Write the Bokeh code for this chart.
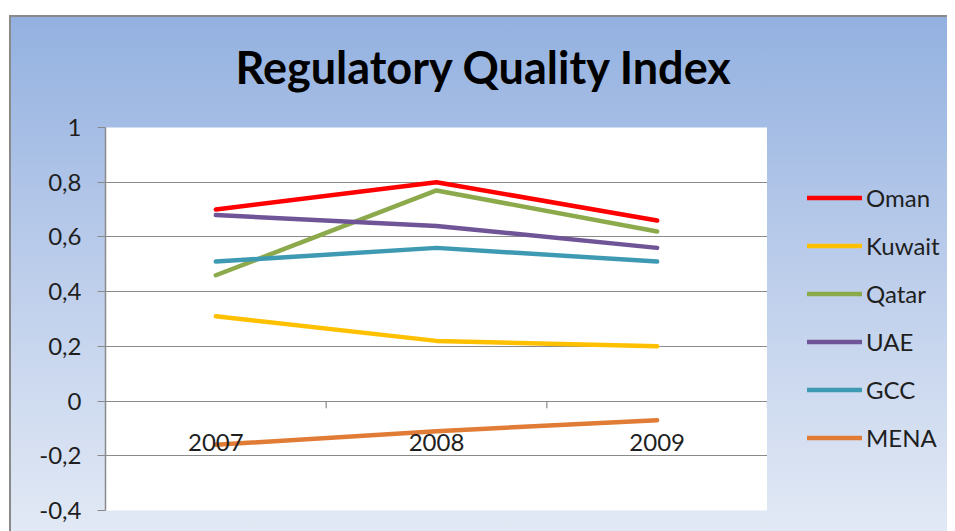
from bokeh.plotting import figure
from bokeh.layouts import row
from bokeh.models import (FactorRange, Range1d, FixedTicker, CategoricalAxis,
                          Legend, LegendItem, Title)
from bokeh.embed import file_html
from bokeh.resources import INLINE

# ---- data ----
years = ["2007", "2008", "2009"]
oman = [0.70, 0.80, 0.66]
kuwait = [0.31, 0.22, 0.20]
qatar = [0.46, 0.77, 0.62]
uae = [0.68, 0.64, 0.56]
gcc = [0.51, 0.56, 0.51]
mena = [-0.16, -0.11, -0.07]
series_names = ["Oman", "Kuwait", "Qatar", "UAE", "GCC", "MENA"]
y_ticks = [-0.4, -0.2, 0, 0.2, 0.4, 0.6, 0.8, 1]
y_tick_labels = ["-0,4", "-0,2", "0", "0,2", "0,4", "0,6", "0,8", "1"]
title_text = "Regulatory Quality Index"

series_values = [oman, kuwait, qatar, uae, gcc, mena]
colors = ["#FF0000", "#FFC000", "#8CAA4C", "#6F5597", "#3E9AB3", "#E07C36"]

FONT = "Lato"
TEXT = "#1f1f1f"
GRID = "#8a8a8a"
H = 514

p = figure(x_range=FactorRange(*years), y_range=Range1d(-0.4, 1.0),
           width=756, height=H, output_backend="svg", toolbar_location=None,
           x_axis_location=None,
           min_border_left=94, min_border_right=0, min_border_top=110,
           min_border_bottom=21)
p.border_fill_alpha = 0
p.background_fill_color = "white"
p.outline_line_color = None

# title: a small blank spacer next to the frame, then the title above it
p.add_layout(Title(text="\u00a0", text_font_size="12px", standoff=0), "above")
p.add_layout(Title(text=title_text, align="left", offset=130, standoff=35,
                   text_font=FONT, text_font_size="45px",
                   text_font_style="bold", text_color="black"), "above")

# y axis
yax = p.yaxis[0]
yax.ticker = FixedTicker(ticks=y_ticks)
yax.major_label_overrides = {t: l for t, l in zip(y_ticks, y_tick_labels)}
yax.major_label_text_font = FONT
yax.major_label_text_font_size = "24px"
yax.major_label_text_color = TEXT
yax.major_label_standoff = 16
yax.axis_line_color = GRID
yax.axis_line_width = 1.5
yax.major_tick_line_color = GRID
yax.major_tick_out = 8
yax.major_tick_in = 0
yax.minor_tick_line_color = None

p.ygrid.ticker = FixedTicker(ticks=y_ticks)
p.ygrid.grid_line_color = GRID
p.ygrid.grid_line_width = 1.2
p.xgrid.grid_line_color = None

# x axis crossing at zero
xax = CategoricalAxis(fixed_location=0)
xax.axis_line_color = GRID
xax.axis_line_width = 1.2
xax.major_tick_line_color = None
xax.major_tick_out = 0
xax.major_label_standoff = 33
xax.major_label_text_font = FONT
xax.major_label_text_font_size = "24px"
xax.major_label_text_color = TEXT
p.add_layout(xax, "below")

# boundary tick marks on the zero line
bounds = [(y, 0.5) for y in years]
p.segment(x0=bounds, y0=[0] * len(bounds), x1=bounds, y1=[-0.026] * len(bounds),
          line_color=GRID, line_width=1.2)

for name, vals, col in zip(series_names, series_values, colors):
    p.line(years, vals, line_color=col, line_width=4.5,
           line_join="round", line_cap="round")

# legend panel (separate figure on the right; its lines lie outside its view)
p2 = figure(width=180, height=H, output_backend="svg", toolbar_location=None,
            x_axis_location=None, y_axis_location=None, min_border=0,
            x_range=FactorRange(*years), y_range=Range1d(5, 6))
p2.border_fill_alpha = 0
p2.background_fill_alpha = 0
p2.outline_line_color = None
p2.grid.visible = False

items = []
for name, vals, col in zip(series_names, series_values, colors):
    r = p2.line(years, vals, line_color=col, line_width=4.5, line_cap="round")
    items.append(LegendItem(label=name, renderers=[r]))

legend = Legend(items=items, location=(40, 58), orientation="vertical",
                glyph_width=55, glyph_height=29, label_height=29, spacing=19,
                label_standoff=4, padding=0, margin=0,
                background_fill_alpha=0, border_line_alpha=0,
                label_text_font=FONT, label_text_font_size="24px",
                label_text_color=TEXT, label_text_baseline="middle")
p2.add_layout(legend)

layout = row(p, p2, spacing=0)
layout.styles = {
    "margin-top": "15px",
    "margin-left": "9px",
    "border-top": "2px solid #8a8a8a",
    "border-left": "2px solid #8a8a8a",
    "background": "linear-gradient(180deg, #93b1e0 0%, #b9cbea 45%, #e2e9f5 100%)",
}

open("out.html", "w").write(file_html(layout, INLINE))
